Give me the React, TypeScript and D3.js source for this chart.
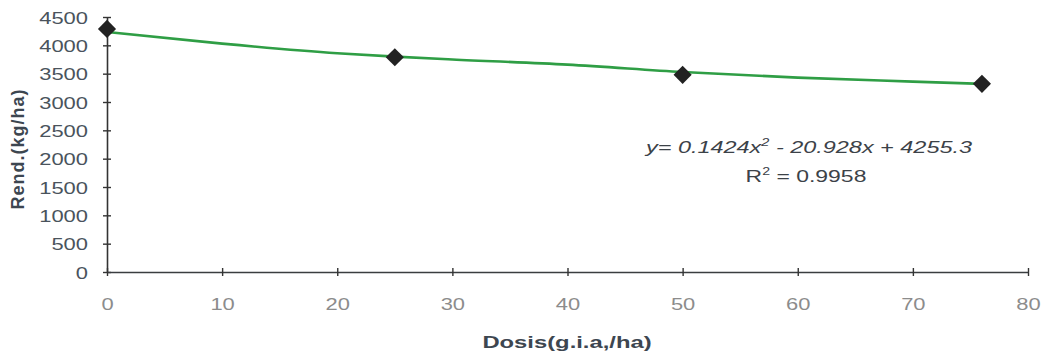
import React, { useEffect, useRef } from 'react';
import * as d3 from 'd3';

// observed yields (kg/ha) per dose (g.i.a./ha)
const doses = [0, 25, 50, 76];
const yields = [4290, 3790, 3480, 3320];

// green trend line
const trendX = [0, 10, 20, 25, 30, 40, 50, 60, 70, 76];
const trendY = [4235, 4030, 3860, 3800, 3750, 3660, 3530, 3430, 3360, 3320];

const xTicks = [0, 10, 20, 30, 40, 50, 60, 70, 80];
const yTicks = [0, 500, 1000, 1500, 2000, 2500, 3000, 3500, 4000, 4500];

const equation = 'y= 0.1424x';
const equationRest = ' - 20.928x + 4255.3';
const rSquared = '0.9958';

const W = 1044;
const H = 354;
// the scanned figure is stretched sideways, so horizontal text is too
const STRETCH = 1.33;

const App = () => {
  const ref = useRef<SVGSVGElement>(null);

  useEffect(() => {
    const svg = d3.select(ref.current);
    svg.selectAll('*').remove();

    const x = d3.scaleLinear().domain([0, 80]).range([107, 1028]);
    const y = d3.scaleLinear().domain([0, 4500]).range([272, 17]);
    const font = "'Liberation Sans', Arial, sans-serif";

    // eje Y
    const gy = svg.append('g')
      .attr('transform', `translate(${x(0)},0)`)
      .call(d3.axisLeft(y).tickValues(yTicks).tickFormat(d3.format('d')).tickSize(4).tickSizeOuter(0));
    gy.select('.domain').attr('stroke', '#333').attr('stroke-width', 1.6);
    gy.selectAll('.tick line').attr('x1', 4).attr('stroke', '#333').attr('stroke-width', 1.4);
    gy.selectAll('.tick text')
      .attr('x', 0).attr('dy', null).attr('y', 6)
      .attr('transform', `translate(-19,0) scale(${STRETCH},1)`)
      .attr('font-family', font).attr('font-size', 16.5).attr('fill', '#4a535c');

    // eje X
    const gx = svg.append('g')
      .attr('transform', `translate(0,${y(0)})`)
      .call(d3.axisBottom(x).tickValues(xTicks).tickFormat(d3.format('d')).tickSize(4).tickSizeOuter(0));
    gx.select('.domain').attr('stroke', '#3a3d40').attr('stroke-width', 1.6);
    gx.selectAll('.tick line').attr('y1', -4).attr('stroke', '#333').attr('stroke-width', 1.4);
    gx.selectAll('.tick text')
      .attr('y', 0).attr('dy', null)
      .attr('transform', `translate(0,38) scale(${STRETCH},1)`)
      .attr('font-family', font).attr('font-size', 16.5).attr('fill', '#8c8c8c');

    // linea de tendencia
    const line = d3.line<number>()
      .x((_, i) => x(trendX[i]))
      .y(d => y(d))
      .curve(d3.curveMonotoneX);
    svg.append('path')
      .datum(trendY)
      .attr('d', line)
      .attr('fill', 'none')
      .attr('stroke', '#2f9e45')
      .attr('stroke-width', 2.6);

    // puntos
    svg.selectAll('.dot')
      .data(yields)
      .enter()
      .append('path')
      .attr('class', 'dot')
      .attr('d', d3.symbol(d3.symbolDiamond2, 210)())
      .attr('transform', (d, i) => `translate(${x(doses[i])},${y(d)})`)
      .attr('fill', '#222');

    // ecuacion
    const eq = svg.append('text')
      .attr('transform', `translate(809,153) scale(1.38,1)`)
      .attr('text-anchor', 'middle')
      .attr('font-family', font).attr('font-size', 17).attr('font-style', 'italic')
      .attr('fill', '#3c4248');
    eq.append('tspan').text(equation);
    eq.append('tspan').attr('dy', -7).attr('font-size', 10.5).text('2');
    eq.append('tspan').attr('dy', 7).text(equationRest);

    const r2 = svg.append('text')
      .attr('transform', `translate(806,182) scale(1.35,1)`)
      .attr('text-anchor', 'middle')
      .attr('font-family', font).attr('font-size', 17)
      .attr('fill', '#3c4248');
    r2.append('tspan').text('R');
    r2.append('tspan').attr('dy', -7).attr('font-size', 10.5).text('2');
    r2.append('tspan').attr('dy', 7).text(` = ${rSquared}`);

    // titulos de ejes
    svg.append('text')
      .attr('transform', 'translate(24,149) rotate(-90)')
      .attr('text-anchor', 'middle')
      .attr('font-family', font).attr('font-size', 18).attr('font-weight', 'bold')
      .attr('fill', '#3d4650').attr('letter-spacing', 1)
      .text('Rend.(kg/ha)');

    svg.append('text')
      .attr('transform', `translate(567,348) scale(1.4,1)`)
      .attr('text-anchor', 'middle')
      .attr('font-family', font).attr('font-size', 17).attr('font-weight', 'bold')
      .attr('fill', '#3d4650')
      .text('Dosis(g.i.a,/ha)');

    return () => {
      svg.selectAll('*').remove();
    };
  }, []);

  return (
    <svg ref={ref} width={W} height={H}
      style={{ position: 'absolute', left: 0, top: 0, background: '#fff' }} />
  );
};

export default App;
